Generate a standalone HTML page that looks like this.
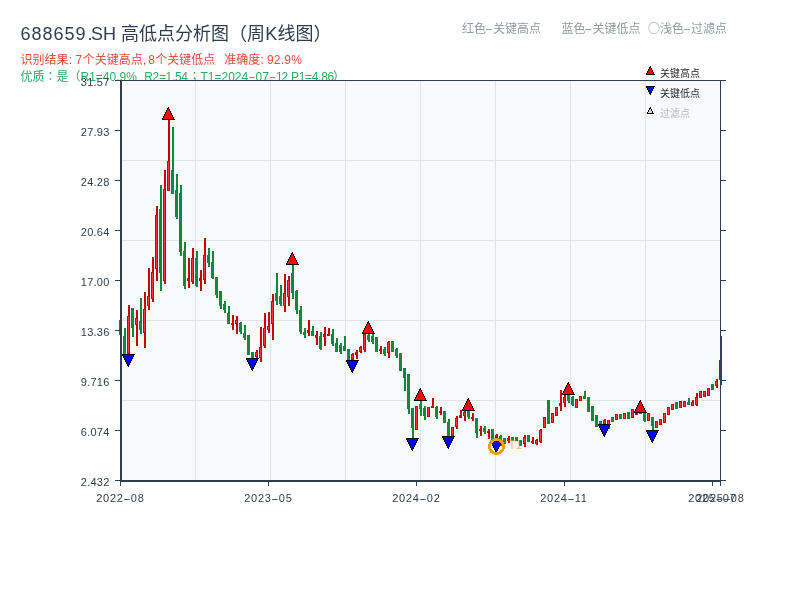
<!DOCTYPE html>
<html lang="zh-CN">
<head>
<meta charset="utf-8">
<title>688659.SH 高低点分析图（周K线图）</title>
<style>
html,body{margin:0;padding:0;background:#fff;}
body{width:800px;height:600px;overflow:hidden;position:relative;font-family:"Liberation Sans","Noto Sans CJK SC",sans-serif;}
svg{position:absolute;left:0;top:0;display:block;}
text{font-family:"Liberation Sans","Noto Sans CJK SC",sans-serif;}
.ax{font-size:11px;fill:#2c3e50;}
</style>
</head>
<body>
<svg width="800" height="600" viewBox="0 0 800 600">
<rect x="0" y="0" width="800" height="600" fill="#ffffff"/>

<text y="40" font-size="18" fill="#2c3e50" xml:space="preserve"><tspan x="20.5" letter-spacing="1.0">688659</tspan><tspan x="87.5">.</tspan><tspan x="91.1">S</tspan><tspan x="102.9">H </tspan><tspan x="121">高低点分析图（周</tspan><tspan x="265.3">K</tspan><tspan x="277.5">线图）</tspan></text>
<text y="64" font-size="12" fill="#e74c3c" xml:space="preserve"><tspan x="20.5">识别结果</tspan><tspan x="68.8">: </tspan><tspan x="75.5">7</tspan><tspan x="82.7">个关键高点</tspan><tspan x="142.9">, </tspan><tspan x="148.2">8</tspan><tspan x="155.2">个关键低点  </tspan><tspan x="224.2">准确度</tspan><tspan x="260.6">: </tspan><tspan x="267" letter-spacing="0.2">92.9%</tspan></text>
<text y="81" font-size="12" fill="#27ae60" xml:space="preserve"><tspan x="20.5">优质</tspan><tspan x="44.5" font-family="Noto Sans CJK JP, sans-serif" lang="ja" xml:lang="ja">：</tspan><tspan x="56.5">是（</tspan><tspan x="80.5">R1=40.9%  </tspan><tspan x="144.3" letter-spacing="-0.35">R2=1.54</tspan><tspan x="188.4" font-family="Noto Sans CJK JP, sans-serif" lang="ja" xml:lang="ja">；</tspan><tspan x="200.5">T1=2024</tspan><tspan x="255.5">07</tspan><tspan x="275.9" letter-spacing="-1">12 </tspan><tspan x="291" letter-spacing="-0.3">P1=4.86</tspan><tspan x="333">）</tspan></text>
<text transform="translate(248.41,81) scale(1.75,1)" font-size="12" fill="#27ae60">-</text>
<text transform="translate(268.94,81) scale(1.8,1)" font-size="12" fill="#27ae60">-</text>
<text y="33" font-size="12" fill="#8f9c9d" xml:space="preserve"><tspan x="462">红色</tspan><tspan x="493">关键高点</tspan><tspan x="561.5">蓝色</tspan><tspan x="592.5">关键低点</tspan><tspan x="648" font-family="Noto Sans CJK SC, sans-serif">○</tspan><tspan x="660">浅色</tspan><tspan x="691">过滤点</tspan></text>
<text transform="translate(485.04,33) scale(2,1)" font-size="12" fill="#8f9c9d">-</text>
<text transform="translate(584.24,33) scale(2,1)" font-size="12" fill="#8f9c9d">-</text>
<text transform="translate(683.04,33) scale(2,1)" font-size="12" fill="#8f9c9d">-</text>
<text x="660" y="76.5" font-size="10" fill="#2a2a2a">关键高点</text>
<rect x="120" y="80" width="600" height="400" fill="#f7f9fb"/>
<rect x="195" y="80" width="1" height="400" fill="#dfe3e8"/>
<rect x="270" y="80" width="1" height="400" fill="#dfe3e8"/>
<rect x="345" y="80" width="1" height="400" fill="#dfe3e8"/>
<rect x="420" y="80" width="1" height="400" fill="#dfe3e8"/>
<rect x="495" y="80" width="1" height="400" fill="#dfe3e8"/>
<rect x="570" y="80" width="1" height="400" fill="#dfe3e8"/>
<rect x="645" y="80" width="1" height="400" fill="#dfe3e8"/>
<rect x="120" y="160" width="600" height="1" fill="#dfe3e8"/>
<rect x="120" y="240" width="600" height="1" fill="#dfe3e8"/>
<rect x="120" y="320" width="600" height="1" fill="#dfe3e8"/>
<rect x="120" y="400" width="600" height="1" fill="#dfe3e8"/>
<text x="660" y="96.5" font-size="10" fill="#2a2a2a">关键低点</text>
<text x="660" y="116.6" font-size="10" fill="#b8b8b8">过滤点</text>
<g shape-rendering="crispEdges">
<rect x="120" y="320" width="2" height="15" fill="#0a8a3a"/>
<rect x="119" y="320" width="3" height="15" fill="#0a8a3a"/>
<rect x="124" y="328" width="2" height="26" fill="#0a8a3a"/>
<rect x="123" y="336" width="3" height="18" fill="#0a8a3a"/>
<rect x="128" y="305" width="2" height="49" fill="#cc0000"/>
<rect x="127" y="316" width="3" height="38" fill="#cc0000"/>
<rect x="128" y="317" width="1" height="36" fill="#ff3333"/>
<rect x="132" y="308" width="2" height="29" fill="#0a8a3a"/>
<rect x="131" y="308" width="3" height="20" fill="#0a8a3a"/>
<rect x="136" y="310" width="2" height="35.6" fill="#cc0000"/>
<rect x="135" y="318" width="3" height="7" fill="#cc0000"/>
<rect x="136" y="319" width="1" height="5" fill="#ff3333"/>
<rect x="140" y="298" width="2" height="36" fill="#0a8a3a"/>
<rect x="139" y="321" width="3" height="9" fill="#0a8a3a"/>
<rect x="144" y="292" width="2" height="55.7" fill="#cc0000"/>
<rect x="143" y="309" width="3" height="24" fill="#cc0000"/>
<rect x="144" y="310" width="1" height="22" fill="#ff3333"/>
<rect x="148" y="268" width="2" height="41.75" fill="#cc0000"/>
<rect x="147" y="296" width="3" height="9.6" fill="#cc0000"/>
<rect x="148" y="297" width="1" height="7.6" fill="#ff3333"/>
<rect x="152" y="256.9" width="2" height="45" fill="#cc0000"/>
<rect x="151" y="272" width="3" height="26.75" fill="#cc0000"/>
<rect x="152" y="273" width="1" height="24.75" fill="#ff3333"/>
<rect x="156" y="206" width="2" height="74.6" fill="#cc0000"/>
<rect x="155" y="215" width="3" height="54.4" fill="#cc0000"/>
<rect x="156" y="216" width="1" height="52.4" fill="#ff3333"/>
<rect x="160" y="185" width="2" height="106" fill="#0a8a3a"/>
<rect x="159" y="208.75" width="3" height="63.75" fill="#0a8a3a"/>
<rect x="164" y="170" width="2" height="114.4" fill="#cc0000"/>
<rect x="163" y="189.4" width="3" height="91.6" fill="#cc0000"/>
<rect x="164" y="190.4" width="1" height="89.6" fill="#ff3333"/>
<rect x="168" y="119.75" width="2" height="70.85" fill="#cc0000"/>
<rect x="167" y="161" width="3" height="29.6" fill="#cc0000"/>
<rect x="168" y="162" width="1" height="27.6" fill="#ff3333"/>
<rect x="172" y="126.9" width="2" height="66.85" fill="#0a8a3a"/>
<rect x="171" y="170" width="3" height="23.75" fill="#0a8a3a"/>
<rect x="176" y="174" width="2" height="44.75" fill="#0a8a3a"/>
<rect x="175" y="190" width="3" height="27" fill="#0a8a3a"/>
<rect x="180" y="185" width="2" height="70.6" fill="#0a8a3a"/>
<rect x="179" y="193" width="3" height="59" fill="#0a8a3a"/>
<rect x="184" y="241.9" width="2" height="46.85" fill="#0a8a3a"/>
<rect x="183" y="251" width="3" height="34.6" fill="#0a8a3a"/>
<rect x="188" y="258" width="2" height="29.5" fill="#cc0000"/>
<rect x="187" y="278" width="3" height="2.6" fill="#cc0000"/>
<rect x="192" y="248" width="2" height="35.5" fill="#cc0000"/>
<rect x="191" y="258" width="3" height="24" fill="#cc0000"/>
<rect x="192" y="259" width="1" height="22" fill="#ff3333"/>
<rect x="196" y="251" width="2" height="36" fill="#0a8a3a"/>
<rect x="195" y="258" width="3" height="27.6" fill="#0a8a3a"/>
<rect x="200" y="270" width="2" height="20.6" fill="#cc0000"/>
<rect x="199" y="278" width="3" height="3" fill="#cc0000"/>
<rect x="204" y="238" width="2" height="45.5" fill="#cc0000"/>
<rect x="203" y="255" width="3" height="25" fill="#cc0000"/>
<rect x="204" y="256" width="1" height="23" fill="#ff3333"/>
<rect x="208" y="248" width="2" height="18.6" fill="#0a8a3a"/>
<rect x="207" y="255" width="3" height="7.5" fill="#0a8a3a"/>
<rect x="212" y="251" width="2" height="28.4" fill="#0a8a3a"/>
<rect x="211" y="262" width="3" height="15.5" fill="#0a8a3a"/>
<rect x="216" y="277" width="2" height="20.5" fill="#0a8a3a"/>
<rect x="215" y="277" width="3" height="18" fill="#0a8a3a"/>
<rect x="220" y="291" width="2" height="17.75" fill="#0a8a3a"/>
<rect x="219" y="291" width="3" height="14.6" fill="#0a8a3a"/>
<rect x="224" y="301" width="2" height="12" fill="#0a8a3a"/>
<rect x="223" y="304" width="3" height="6" fill="#0a8a3a"/>
<rect x="228" y="306" width="2" height="17.75" fill="#0a8a3a"/>
<rect x="227" y="312.5" width="3" height="11.25" fill="#0a8a3a"/>
<rect x="232" y="315" width="2" height="15" fill="#cc0000"/>
<rect x="231" y="322.75" width="3" height="2.25" fill="#cc0000"/>
<rect x="236" y="316" width="2" height="17.75" fill="#cc0000"/>
<rect x="235" y="320" width="3" height="3.75" fill="#cc0000"/>
<rect x="236" y="321" width="1" height="1.75" fill="#ff3333"/>
<rect x="240" y="321.9" width="2" height="11.85" fill="#0a8a3a"/>
<rect x="239" y="322.5" width="3" height="9.5" fill="#0a8a3a"/>
<rect x="244" y="325" width="2" height="15" fill="#0a8a3a"/>
<rect x="243" y="333" width="3" height="5" fill="#0a8a3a"/>
<rect x="248" y="335" width="2" height="20" fill="#0a8a3a"/>
<rect x="247" y="335" width="3" height="20" fill="#0a8a3a"/>
<rect x="252" y="352" width="2" height="6" fill="#0a8a3a"/>
<rect x="251" y="352" width="3" height="6" fill="#0a8a3a"/>
<rect x="256" y="350" width="2" height="8" fill="#cc0000"/>
<rect x="255" y="352" width="3" height="5" fill="#cc0000"/>
<rect x="256" y="353" width="1" height="3" fill="#ff3333"/>
<rect x="260" y="327" width="2" height="35" fill="#cc0000"/>
<rect x="259" y="347" width="3" height="10.5" fill="#cc0000"/>
<rect x="260" y="348" width="1" height="8.5" fill="#ff3333"/>
<rect x="264" y="313" width="2" height="34.75" fill="#cc0000"/>
<rect x="263" y="328" width="3" height="17.6" fill="#cc0000"/>
<rect x="264" y="329" width="1" height="15.6" fill="#ff3333"/>
<rect x="268" y="312" width="2" height="21" fill="#cc0000"/>
<rect x="267" y="325.6" width="3" height="4.4" fill="#cc0000"/>
<rect x="268" y="326.6" width="1" height="2.4" fill="#ff3333"/>
<rect x="272" y="293.75" width="2" height="46.25" fill="#cc0000"/>
<rect x="271" y="300.6" width="3" height="23.15" fill="#cc0000"/>
<rect x="272" y="301.6" width="1" height="21.15" fill="#ff3333"/>
<rect x="276" y="273" width="2" height="32" fill="#0a8a3a"/>
<rect x="275" y="293" width="3" height="8" fill="#0a8a3a"/>
<rect x="280" y="285" width="2" height="20.6" fill="#0a8a3a"/>
<rect x="279" y="296" width="3" height="7.75" fill="#0a8a3a"/>
<rect x="284" y="274" width="2" height="37.9" fill="#cc0000"/>
<rect x="283" y="292.5" width="3" height="13.1" fill="#cc0000"/>
<rect x="284" y="293.5" width="1" height="11.1" fill="#ff3333"/>
<rect x="288" y="276" width="2" height="29.6" fill="#cc0000"/>
<rect x="287" y="280" width="3" height="17" fill="#cc0000"/>
<rect x="288" y="281" width="1" height="15" fill="#ff3333"/>
<rect x="292" y="264.75" width="2" height="34" fill="#0a8a3a"/>
<rect x="291" y="273" width="3" height="20" fill="#0a8a3a"/>
<rect x="296" y="290" width="2" height="23.75" fill="#0a8a3a"/>
<rect x="295" y="291" width="3" height="19" fill="#0a8a3a"/>
<rect x="300" y="306" width="2" height="27.75" fill="#0a8a3a"/>
<rect x="299" y="310" width="3" height="22" fill="#0a8a3a"/>
<rect x="304" y="328" width="2" height="9.5" fill="#0a8a3a"/>
<rect x="303" y="332" width="3" height="3" fill="#0a8a3a"/>
<rect x="308" y="320" width="2" height="16" fill="#cc0000"/>
<rect x="307" y="330" width="3" height="2.5" fill="#cc0000"/>
<rect x="312" y="326" width="2" height="10" fill="#0a8a3a"/>
<rect x="311" y="331" width="3" height="5" fill="#0a8a3a"/>
<rect x="316" y="331" width="2" height="13.75" fill="#cc0000"/>
<rect x="315" y="335" width="3" height="2.5" fill="#cc0000"/>
<rect x="320" y="332" width="2" height="17.75" fill="#0a8a3a"/>
<rect x="319" y="336" width="3" height="12.75" fill="#0a8a3a"/>
<rect x="324" y="327" width="2" height="19" fill="#cc0000"/>
<rect x="323" y="334" width="3" height="3" fill="#cc0000"/>
<rect x="328" y="328" width="2" height="8" fill="#cc0000"/>
<rect x="327" y="333.75" width="3" height="2.25" fill="#cc0000"/>
<rect x="332" y="329" width="2" height="16.6" fill="#0a8a3a"/>
<rect x="331" y="334" width="3" height="10" fill="#0a8a3a"/>
<rect x="336" y="337.5" width="2" height="14.5" fill="#0a8a3a"/>
<rect x="335" y="342.5" width="3" height="9.5" fill="#0a8a3a"/>
<rect x="340" y="343" width="2" height="10.5" fill="#0a8a3a"/>
<rect x="339" y="345" width="3" height="7" fill="#0a8a3a"/>
<rect x="344" y="336" width="2" height="15" fill="#0a8a3a"/>
<rect x="343" y="345.6" width="3" height="5" fill="#0a8a3a"/>
<rect x="348" y="349" width="2" height="11" fill="#0a8a3a"/>
<rect x="347" y="349" width="3" height="11" fill="#0a8a3a"/>
<rect x="352" y="353" width="2" height="7.4" fill="#cc0000"/>
<rect x="351" y="354.4" width="3" height="5.6" fill="#cc0000"/>
<rect x="352" y="355.4" width="1" height="3.6" fill="#ff3333"/>
<rect x="356" y="350" width="2" height="8.75" fill="#cc0000"/>
<rect x="355" y="352" width="3" height="3" fill="#cc0000"/>
<rect x="360" y="346" width="2" height="6.5" fill="#cc0000"/>
<rect x="359" y="347" width="3" height="5" fill="#cc0000"/>
<rect x="360" y="348" width="1" height="3" fill="#ff3333"/>
<rect x="364" y="333.5" width="2" height="18" fill="#cc0000"/>
<rect x="363" y="333.5" width="3" height="16.5" fill="#cc0000"/>
<rect x="364" y="334.5" width="1" height="14.5" fill="#ff3333"/>
<rect x="368" y="333.5" width="2" height="8.1" fill="#0a8a3a"/>
<rect x="367" y="335" width="3" height="5" fill="#0a8a3a"/>
<rect x="372" y="333.5" width="2" height="10" fill="#0a8a3a"/>
<rect x="371" y="336" width="3" height="6" fill="#0a8a3a"/>
<rect x="376" y="337" width="2" height="14.5" fill="#0a8a3a"/>
<rect x="375" y="337" width="3" height="14.5" fill="#0a8a3a"/>
<rect x="380" y="346" width="2" height="7.5" fill="#cc0000"/>
<rect x="379" y="349" width="3" height="2" fill="#cc0000"/>
<rect x="384" y="347" width="2" height="8.6" fill="#0a8a3a"/>
<rect x="383" y="349" width="3" height="5" fill="#0a8a3a"/>
<rect x="388" y="341" width="2" height="16.75" fill="#cc0000"/>
<rect x="387" y="342" width="3" height="10.5" fill="#cc0000"/>
<rect x="388" y="343" width="1" height="8.5" fill="#ff3333"/>
<rect x="392" y="341" width="2" height="10.5" fill="#0a8a3a"/>
<rect x="391" y="341" width="3" height="10.5" fill="#0a8a3a"/>
<rect x="396" y="348" width="2" height="9.75" fill="#0a8a3a"/>
<rect x="395" y="349" width="3" height="7" fill="#0a8a3a"/>
<rect x="400" y="353" width="2" height="17.6" fill="#0a8a3a"/>
<rect x="399" y="353" width="3" height="17.6" fill="#0a8a3a"/>
<rect x="404" y="368" width="2" height="22.6" fill="#0a8a3a"/>
<rect x="403" y="368" width="3" height="9.5" fill="#0a8a3a"/>
<rect x="408" y="374" width="2" height="39.75" fill="#0a8a3a"/>
<rect x="407" y="374" width="3" height="34.75" fill="#0a8a3a"/>
<rect x="412" y="408" width="2" height="30" fill="#0a8a3a"/>
<rect x="411" y="408" width="3" height="19.5" fill="#0a8a3a"/>
<rect x="416" y="406" width="2" height="23.75" fill="#cc0000"/>
<rect x="415" y="406" width="3" height="23.75" fill="#cc0000"/>
<rect x="416" y="407" width="1" height="21.75" fill="#ff3333"/>
<rect x="420" y="400.6" width="2" height="15" fill="#0a8a3a"/>
<rect x="419" y="403.75" width="3" height="5" fill="#0a8a3a"/>
<rect x="424" y="406" width="2" height="13.75" fill="#0a8a3a"/>
<rect x="423" y="408" width="3" height="8" fill="#0a8a3a"/>
<rect x="428" y="406.9" width="2" height="10" fill="#cc0000"/>
<rect x="427" y="406.9" width="3" height="10" fill="#cc0000"/>
<rect x="428" y="407.9" width="1" height="8" fill="#ff3333"/>
<rect x="432" y="397.9" width="2" height="10" fill="#cc0000"/>
<rect x="431" y="406" width="3" height="1.9" fill="#cc0000"/>
<rect x="436" y="406" width="2" height="12.75" fill="#0a8a3a"/>
<rect x="435" y="407" width="3" height="10" fill="#0a8a3a"/>
<rect x="440" y="407" width="2" height="7.75" fill="#cc0000"/>
<rect x="439" y="410.6" width="3" height="2.4" fill="#cc0000"/>
<rect x="444" y="411" width="2" height="11.5" fill="#0a8a3a"/>
<rect x="443" y="411" width="3" height="11.5" fill="#0a8a3a"/>
<rect x="448" y="419" width="2" height="17.25" fill="#0a8a3a"/>
<rect x="447" y="422" width="3" height="14.25" fill="#0a8a3a"/>
<rect x="452" y="427" width="2" height="9" fill="#cc0000"/>
<rect x="451" y="427" width="3" height="9" fill="#cc0000"/>
<rect x="452" y="428" width="1" height="7" fill="#ff3333"/>
<rect x="456" y="416" width="2" height="12.75" fill="#cc0000"/>
<rect x="455" y="417.75" width="3" height="9.25" fill="#cc0000"/>
<rect x="456" y="418.75" width="1" height="7.25" fill="#ff3333"/>
<rect x="460" y="410" width="2" height="7.75" fill="#cc0000"/>
<rect x="459" y="415" width="3" height="2.5" fill="#cc0000"/>
<rect x="464" y="410.6" width="2" height="10" fill="#cc0000"/>
<rect x="463" y="412" width="3" height="3.6" fill="#cc0000"/>
<rect x="464" y="413" width="1" height="1.6" fill="#ff3333"/>
<rect x="468" y="410.6" width="2" height="8.15" fill="#0a8a3a"/>
<rect x="467" y="411" width="3" height="6" fill="#0a8a3a"/>
<rect x="472" y="413" width="2" height="7.6" fill="#cc0000"/>
<rect x="471" y="417" width="3" height="2.4" fill="#cc0000"/>
<rect x="476" y="418" width="2" height="19.5" fill="#0a8a3a"/>
<rect x="475" y="418" width="3" height="14.5" fill="#0a8a3a"/>
<rect x="480" y="426" width="2" height="9.6" fill="#cc0000"/>
<rect x="479" y="428.75" width="3" height="1.85" fill="#cc0000"/>
<rect x="484" y="426" width="2" height="8" fill="#0a8a3a"/>
<rect x="483" y="428" width="3" height="4" fill="#0a8a3a"/>
<rect x="488" y="429" width="2" height="9.75" fill="#cc0000"/>
<rect x="487" y="431" width="3" height="2" fill="#cc0000"/>
<rect x="492" y="429" width="2" height="11" fill="#0a8a3a"/>
<rect x="491" y="429" width="3" height="11" fill="#0a8a3a"/>
<rect x="496" y="434" width="2" height="4" fill="#cc0000"/>
<rect x="495" y="435" width="3" height="3" fill="#cc0000"/>
<rect x="500" y="435" width="2" height="10.6" fill="#0a8a3a"/>
<rect x="499" y="436" width="3" height="6" fill="#0a8a3a"/>
<rect x="504" y="437.5" width="2" height="6.9" fill="#0a8a3a"/>
<rect x="503" y="438" width="3" height="6" fill="#0a8a3a"/>
<rect x="508" y="436" width="2" height="6.5" fill="#cc0000"/>
<rect x="507" y="438" width="3" height="3" fill="#cc0000"/>
<rect x="512" y="437" width="2" height="4" fill="#0a8a3a"/>
<rect x="511" y="437" width="3" height="4" fill="#0a8a3a"/>
<rect x="516" y="437" width="2" height="4" fill="#0a8a3a"/>
<rect x="515" y="437" width="3" height="4" fill="#0a8a3a"/>
<rect x="520" y="440" width="2" height="6.25" fill="#0a8a3a"/>
<rect x="519" y="440" width="3" height="6.25" fill="#0a8a3a"/>
<rect x="524" y="435" width="2" height="11.5" fill="#cc0000"/>
<rect x="523" y="437" width="3" height="7.4" fill="#cc0000"/>
<rect x="524" y="438" width="1" height="5.4" fill="#ff3333"/>
<rect x="528" y="435" width="2" height="6.5" fill="#0a8a3a"/>
<rect x="527" y="435" width="3" height="6.5" fill="#0a8a3a"/>
<rect x="532" y="437" width="2" height="6.5" fill="#cc0000"/>
<rect x="531" y="440.6" width="3" height="1.9" fill="#cc0000"/>
<rect x="536" y="439" width="2" height="5.75" fill="#cc0000"/>
<rect x="535" y="440" width="3" height="4" fill="#cc0000"/>
<rect x="536" y="441" width="1" height="2" fill="#ff3333"/>
<rect x="540" y="429" width="2" height="13.75" fill="#cc0000"/>
<rect x="539" y="430" width="3" height="12" fill="#cc0000"/>
<rect x="540" y="431" width="1" height="10" fill="#ff3333"/>
<rect x="544" y="417" width="2" height="10.5" fill="#cc0000"/>
<rect x="543" y="417" width="3" height="10.5" fill="#cc0000"/>
<rect x="544" y="418" width="1" height="8.5" fill="#ff3333"/>
<rect x="548" y="400" width="2" height="23.5" fill="#0a8a3a"/>
<rect x="547" y="400" width="3" height="23.5" fill="#0a8a3a"/>
<rect x="552" y="413" width="2" height="9.5" fill="#cc0000"/>
<rect x="551" y="413" width="3" height="9.5" fill="#cc0000"/>
<rect x="552" y="414" width="1" height="7.5" fill="#ff3333"/>
<rect x="556" y="407" width="2" height="8.6" fill="#cc0000"/>
<rect x="555" y="407" width="3" height="8.6" fill="#cc0000"/>
<rect x="556" y="408" width="1" height="6.6" fill="#ff3333"/>
<rect x="560" y="390" width="2" height="20.6" fill="#cc0000"/>
<rect x="559" y="403" width="3" height="2.6" fill="#cc0000"/>
<rect x="564" y="394.4" width="2" height="12.1" fill="#cc0000"/>
<rect x="563" y="397" width="3" height="5.5" fill="#cc0000"/>
<rect x="564" y="398" width="1" height="3.5" fill="#ff3333"/>
<rect x="568" y="394.4" width="2" height="8.1" fill="#0a8a3a"/>
<rect x="567" y="395" width="3" height="6" fill="#0a8a3a"/>
<rect x="572" y="396" width="2" height="10.25" fill="#0a8a3a"/>
<rect x="571" y="397" width="3" height="8" fill="#0a8a3a"/>
<rect x="576" y="399.4" width="2" height="8.1" fill="#cc0000"/>
<rect x="575" y="399.4" width="3" height="8.1" fill="#cc0000"/>
<rect x="576" y="400.4" width="1" height="6.1" fill="#ff3333"/>
<rect x="580" y="396.25" width="2" height="4.35" fill="#cc0000"/>
<rect x="579" y="396.25" width="3" height="4.35" fill="#cc0000"/>
<rect x="580" y="397.25" width="1" height="2.35" fill="#ff3333"/>
<rect x="584" y="391.25" width="2" height="7.25" fill="#0a8a3a"/>
<rect x="583" y="395.6" width="3" height="2.9" fill="#0a8a3a"/>
<rect x="588" y="397.25" width="2" height="14.25" fill="#0a8a3a"/>
<rect x="587" y="397.25" width="3" height="14.25" fill="#0a8a3a"/>
<rect x="592" y="406.25" width="2" height="14.35" fill="#0a8a3a"/>
<rect x="591" y="406.25" width="3" height="14.35" fill="#0a8a3a"/>
<rect x="596" y="415.25" width="2" height="11.25" fill="#0a8a3a"/>
<rect x="595" y="415.25" width="3" height="11.25" fill="#0a8a3a"/>
<rect x="600" y="421.25" width="2" height="3.25" fill="#0a8a3a"/>
<rect x="599" y="421.25" width="3" height="3.25" fill="#0a8a3a"/>
<rect x="604" y="419" width="2" height="5.4" fill="#cc0000"/>
<rect x="603" y="420" width="3" height="4.4" fill="#cc0000"/>
<rect x="604" y="421" width="1" height="2.4" fill="#ff3333"/>
<rect x="608" y="420" width="2" height="8.5" fill="#cc0000"/>
<rect x="607" y="420" width="3" height="8.5" fill="#cc0000"/>
<rect x="608" y="421" width="1" height="6.5" fill="#ff3333"/>
<rect x="612" y="417.25" width="2" height="4.25" fill="#0a8a3a"/>
<rect x="611" y="417.25" width="3" height="4.25" fill="#0a8a3a"/>
<rect x="616" y="414.4" width="2" height="5.85" fill="#cc0000"/>
<rect x="615" y="414.4" width="3" height="5.85" fill="#cc0000"/>
<rect x="616" y="415.4" width="1" height="3.85" fill="#ff3333"/>
<rect x="620" y="414.4" width="2" height="4.35" fill="#0a8a3a"/>
<rect x="619" y="414.4" width="3" height="4.35" fill="#0a8a3a"/>
<rect x="624" y="413" width="2" height="6.4" fill="#cc0000"/>
<rect x="623" y="413" width="3" height="6.4" fill="#cc0000"/>
<rect x="624" y="414" width="1" height="4.4" fill="#ff3333"/>
<rect x="628" y="412.25" width="2" height="6.25" fill="#0a8a3a"/>
<rect x="627" y="412.25" width="3" height="6.25" fill="#0a8a3a"/>
<rect x="632" y="409.4" width="2" height="8.1" fill="#cc0000"/>
<rect x="631" y="409.4" width="3" height="8.1" fill="#cc0000"/>
<rect x="632" y="410.4" width="1" height="6.1" fill="#ff3333"/>
<rect x="636" y="412.5" width="2" height="2.25" fill="#cc0000"/>
<rect x="635" y="412.5" width="3" height="2.25" fill="#cc0000"/>
<rect x="640" y="412.5" width="2" height="1.25" fill="#0a8a3a"/>
<rect x="639" y="412.5" width="3" height="1.25" fill="#0a8a3a"/>
<rect x="644" y="412.5" width="2" height="9.4" fill="#0a8a3a"/>
<rect x="643" y="413" width="3" height="8" fill="#0a8a3a"/>
<rect x="648" y="413" width="2" height="7.6" fill="#cc0000"/>
<rect x="647" y="413" width="3" height="7.6" fill="#cc0000"/>
<rect x="648" y="414" width="1" height="5.6" fill="#ff3333"/>
<rect x="652" y="417.25" width="2" height="12.75" fill="#0a8a3a"/>
<rect x="651" y="417.25" width="3" height="8.75" fill="#0a8a3a"/>
<rect x="656" y="421.25" width="2" height="6.25" fill="#cc0000"/>
<rect x="655" y="421.25" width="3" height="6.25" fill="#cc0000"/>
<rect x="656" y="422.25" width="1" height="4.25" fill="#ff3333"/>
<rect x="660" y="419" width="2" height="5.75" fill="#cc0000"/>
<rect x="659" y="419" width="3" height="5.75" fill="#cc0000"/>
<rect x="660" y="420" width="1" height="3.75" fill="#ff3333"/>
<rect x="664" y="413" width="2" height="9.5" fill="#cc0000"/>
<rect x="663" y="413" width="3" height="9.5" fill="#cc0000"/>
<rect x="664" y="414" width="1" height="7.5" fill="#ff3333"/>
<rect x="668" y="407.25" width="2" height="7.5" fill="#cc0000"/>
<rect x="667" y="407.25" width="3" height="7.5" fill="#cc0000"/>
<rect x="668" y="408.25" width="1" height="5.5" fill="#ff3333"/>
<rect x="672" y="404" width="2" height="5.75" fill="#cc0000"/>
<rect x="671" y="404" width="3" height="5.75" fill="#cc0000"/>
<rect x="672" y="405" width="1" height="3.75" fill="#ff3333"/>
<rect x="676" y="402.25" width="2" height="6.5" fill="#0a8a3a"/>
<rect x="675" y="402.25" width="3" height="6.5" fill="#0a8a3a"/>
<rect x="680" y="401" width="2" height="6.75" fill="#cc0000"/>
<rect x="679" y="401" width="3" height="6.75" fill="#cc0000"/>
<rect x="680" y="402" width="1" height="4.75" fill="#ff3333"/>
<rect x="684" y="401" width="2" height="5.9" fill="#cc0000"/>
<rect x="683" y="401" width="3" height="5.9" fill="#cc0000"/>
<rect x="684" y="402" width="1" height="3.9" fill="#ff3333"/>
<rect x="688" y="398" width="2" height="6.75" fill="#0a8a3a"/>
<rect x="687" y="401.9" width="3" height="2.85" fill="#0a8a3a"/>
<rect x="692" y="400" width="2" height="5.6" fill="#cc0000"/>
<rect x="691" y="402" width="3" height="3.6" fill="#cc0000"/>
<rect x="692" y="403" width="1" height="1.6" fill="#ff3333"/>
<rect x="696" y="393" width="2" height="12.6" fill="#cc0000"/>
<rect x="695" y="397" width="3" height="8" fill="#cc0000"/>
<rect x="696" y="398" width="1" height="6" fill="#ff3333"/>
<rect x="700" y="391" width="2" height="6.5" fill="#cc0000"/>
<rect x="699" y="391" width="3" height="6.5" fill="#cc0000"/>
<rect x="700" y="392" width="1" height="4.5" fill="#ff3333"/>
<rect x="704" y="391" width="2" height="5.5" fill="#cc0000"/>
<rect x="703" y="391" width="3" height="5.5" fill="#cc0000"/>
<rect x="704" y="392" width="1" height="3.5" fill="#ff3333"/>
<rect x="708" y="388" width="2" height="7.6" fill="#cc0000"/>
<rect x="707" y="388" width="3" height="7.6" fill="#cc0000"/>
<rect x="708" y="389" width="1" height="5.6" fill="#ff3333"/>
<rect x="712" y="384" width="2" height="5.75" fill="#0a8a3a"/>
<rect x="711" y="384" width="3" height="5.75" fill="#0a8a3a"/>
<rect x="716" y="379" width="2" height="8.75" fill="#cc0000"/>
<rect x="715" y="381" width="3" height="5" fill="#cc0000"/>
<rect x="716" y="382" width="1" height="3" fill="#ff3333"/>
<rect x="720" y="336" width="2" height="49.3" fill="#cc0000"/>
<rect x="719" y="360" width="3" height="20" fill="#cc0000"/>
<rect x="720" y="361" width="1" height="18" fill="#ff3333"/>
</g>
<g fill="#2c3e50" shape-rendering="crispEdges">
<rect x="120" y="80" width="2" height="402"/>
<rect x="120" y="480" width="601" height="2"/>
<rect x="120" y="80" width="606" height="1"/>
<rect x="720" y="80" width="1" height="401"/>
<rect x="115" y="80" width="5" height="1"/>
<rect x="115" y="130" width="5" height="1"/>
<rect x="721" y="130" width="5" height="1"/>
<rect x="115" y="180" width="5" height="1"/>
<rect x="721" y="180" width="5" height="1"/>
<rect x="115" y="230" width="5" height="1"/>
<rect x="721" y="230" width="5" height="1"/>
<rect x="115" y="280" width="5" height="1"/>
<rect x="721" y="280" width="5" height="1"/>
<rect x="115" y="330" width="5" height="1"/>
<rect x="721" y="330" width="5" height="1"/>
<rect x="115" y="380" width="5" height="1"/>
<rect x="721" y="380" width="5" height="1"/>
<rect x="115" y="430" width="5" height="1"/>
<rect x="721" y="430" width="5" height="1"/>
<rect x="115" y="480" width="5" height="1"/>
<rect x="721" y="480" width="5" height="1"/>
<rect x="120" y="482" width="1" height="4"/>
<rect x="268" y="482" width="1" height="4"/>
<rect x="416" y="482" width="1" height="4"/>
<rect x="564" y="482" width="1" height="4"/>
<rect x="712" y="482" width="1" height="4"/>
<rect x="720" y="482" width="1" height="4"/>
</g>
<text class="ax" x="109.6" y="86" text-anchor="end" letter-spacing="0.25">31.57</text>
<text class="ax" x="109.6" y="136" text-anchor="end" letter-spacing="0.25">27.93</text>
<text class="ax" x="109.6" y="186" text-anchor="end" letter-spacing="0.25">24.28</text>
<text class="ax" x="109.6" y="236" text-anchor="end" letter-spacing="0.25">20.64</text>
<text class="ax" x="109.6" y="286" text-anchor="end" letter-spacing="0.25">17.00</text>
<text class="ax" x="109.6" y="336" text-anchor="end" letter-spacing="0.25">13.36</text>
<text class="ax" x="109.6" y="386" text-anchor="end" letter-spacing="0.25">9.716</text>
<text class="ax" x="109.6" y="436" text-anchor="end" letter-spacing="0.25">6.074</text>
<text class="ax" x="109.6" y="486" text-anchor="end" letter-spacing="0.25">2.432</text>
<text class="ax" y="502" letter-spacing="0.75"><tspan x="96.2">2022</tspan><tspan x="130.8">08</tspan></text>
<text transform="translate(123.2,502) scale(2.04,1)" font-size="11" fill="#2c3e50">-</text>
<text class="ax" y="502" letter-spacing="0.75"><tspan x="244.2">2023</tspan><tspan x="278.8">05</tspan></text>
<text transform="translate(271.2,502) scale(2.04,1)" font-size="11" fill="#2c3e50">-</text>
<text class="ax" y="502" letter-spacing="0.75"><tspan x="392.2">2024</tspan><tspan x="426.8">02</tspan></text>
<text transform="translate(419.2,502) scale(2.04,1)" font-size="11" fill="#2c3e50">-</text>
<text class="ax" y="502" letter-spacing="0.75"><tspan x="540.2">2024</tspan><tspan x="574.8">11</tspan></text>
<text transform="translate(567.2,502) scale(2.04,1)" font-size="11" fill="#2c3e50">-</text>
<text class="ax" y="502" letter-spacing="0.75"><tspan x="688.2">2025</tspan><tspan x="722.8">07</tspan></text>
<text transform="translate(715.2,502) scale(2.04,1)" font-size="11" fill="#2c3e50">-</text>
<text class="ax" y="502" letter-spacing="0.75"><tspan x="696.2">2025</tspan><tspan x="730.8">08</tspan></text>
<text transform="translate(723.2,502) scale(2.04,1)" font-size="11" fill="#2c3e50">-</text>
<g transform="translate(650,66)" shape-rendering="crispEdges"><rect x="0" y="0" width="1" height="1" fill="#000"/><rect x="-1" y="1" width="2" height="1" fill="#000"/><rect x="-1" y="2" width="3" height="1" fill="#000"/><rect x="0" y="2" width="1" height="1" fill="#ff0000"/><rect x="-2" y="3" width="4" height="1" fill="#000"/><rect x="-1" y="3" width="2" height="1" fill="#ff0000"/><rect x="-2" y="4" width="5" height="1" fill="#000"/><rect x="-1" y="4" width="3" height="1" fill="#ff0000"/><rect x="-3" y="5" width="6" height="1" fill="#000"/><rect x="-2" y="5" width="4" height="1" fill="#ff0000"/><rect x="-3" y="6" width="7" height="1" fill="#000"/><rect x="-2" y="6" width="5" height="1" fill="#ff0000"/><rect x="-4" y="7" width="8" height="1" fill="#000"/><rect x="-3" y="7" width="6" height="1" fill="#ff0000"/><rect x="-4" y="8" width="9" height="1" fill="#000"/></g>
<g transform="translate(650,86)" shape-rendering="crispEdges"><rect x="0" y="8" width="1" height="1" fill="#000"/><rect x="-1" y="7" width="2" height="1" fill="#000"/><rect x="-1" y="6" width="3" height="1" fill="#000"/><rect x="0" y="6" width="1" height="1" fill="#0000ff"/><rect x="-2" y="5" width="4" height="1" fill="#000"/><rect x="-1" y="5" width="2" height="1" fill="#0000ff"/><rect x="-2" y="4" width="5" height="1" fill="#000"/><rect x="-1" y="4" width="3" height="1" fill="#0000ff"/><rect x="-3" y="3" width="6" height="1" fill="#000"/><rect x="-2" y="3" width="4" height="1" fill="#0000ff"/><rect x="-3" y="2" width="7" height="1" fill="#000"/><rect x="-2" y="2" width="5" height="1" fill="#0000ff"/><rect x="-4" y="1" width="8" height="1" fill="#000"/><rect x="-3" y="1" width="6" height="1" fill="#0000ff"/><rect x="-4" y="0" width="9" height="1" fill="#000"/></g>
<g transform="translate(650,107)" shape-rendering="crispEdges"><rect x="0" y="0" width="1" height="1" fill="#000"/><rect x="-1" y="1" width="2" height="1" fill="#000"/><rect x="-1" y="2" width="3" height="1" fill="#000"/><rect x="0" y="2" width="1" height="1" fill="#ffcccc"/><rect x="-2" y="3" width="4" height="1" fill="#000"/><rect x="-1" y="3" width="2" height="1" fill="#ffcccc"/><rect x="-2" y="4" width="5" height="1" fill="#000"/><rect x="-1" y="4" width="3" height="1" fill="#ffcccc"/><rect x="-3" y="5" width="6" height="1" fill="#000"/><rect x="-2" y="5" width="4" height="1" fill="#ffcccc"/><rect x="-3" y="6" width="7" height="1" fill="#000"/></g>
<g transform="translate(168,107)" shape-rendering="crispEdges"><rect x="0" y="0" width="1" height="1" fill="#000"/><rect x="-1" y="1" width="2" height="1" fill="#000"/><rect x="-1" y="2" width="3" height="1" fill="#000"/><rect x="0" y="2" width="1" height="1" fill="#ff0000"/><rect x="-2" y="3" width="4" height="1" fill="#000"/><rect x="-1" y="3" width="2" height="1" fill="#ff0000"/><rect x="-2" y="4" width="5" height="1" fill="#000"/><rect x="-1" y="4" width="3" height="1" fill="#ff0000"/><rect x="-3" y="5" width="6" height="1" fill="#000"/><rect x="-2" y="5" width="4" height="1" fill="#ff0000"/><rect x="-3" y="6" width="7" height="1" fill="#000"/><rect x="-2" y="6" width="5" height="1" fill="#ff0000"/><rect x="-4" y="7" width="8" height="1" fill="#000"/><rect x="-3" y="7" width="6" height="1" fill="#ff0000"/><rect x="-4" y="8" width="9" height="1" fill="#000"/><rect x="-3" y="8" width="7" height="1" fill="#ff0000"/><rect x="-5" y="9" width="10" height="1" fill="#000"/><rect x="-4" y="9" width="8" height="1" fill="#ff0000"/><rect x="-5" y="10" width="11" height="1" fill="#000"/><rect x="-4" y="10" width="9" height="1" fill="#ff0000"/><rect x="-6" y="11" width="12" height="1" fill="#000"/><rect x="-5" y="11" width="10" height="1" fill="#ff0000"/><rect x="-6" y="12" width="13" height="1" fill="#000"/></g>
<g transform="translate(292,252)" shape-rendering="crispEdges"><rect x="0" y="0" width="1" height="1" fill="#000"/><rect x="-1" y="1" width="2" height="1" fill="#000"/><rect x="-1" y="2" width="3" height="1" fill="#000"/><rect x="0" y="2" width="1" height="1" fill="#ff0000"/><rect x="-2" y="3" width="4" height="1" fill="#000"/><rect x="-1" y="3" width="2" height="1" fill="#ff0000"/><rect x="-2" y="4" width="5" height="1" fill="#000"/><rect x="-1" y="4" width="3" height="1" fill="#ff0000"/><rect x="-3" y="5" width="6" height="1" fill="#000"/><rect x="-2" y="5" width="4" height="1" fill="#ff0000"/><rect x="-3" y="6" width="7" height="1" fill="#000"/><rect x="-2" y="6" width="5" height="1" fill="#ff0000"/><rect x="-4" y="7" width="8" height="1" fill="#000"/><rect x="-3" y="7" width="6" height="1" fill="#ff0000"/><rect x="-4" y="8" width="9" height="1" fill="#000"/><rect x="-3" y="8" width="7" height="1" fill="#ff0000"/><rect x="-5" y="9" width="10" height="1" fill="#000"/><rect x="-4" y="9" width="8" height="1" fill="#ff0000"/><rect x="-5" y="10" width="11" height="1" fill="#000"/><rect x="-4" y="10" width="9" height="1" fill="#ff0000"/><rect x="-6" y="11" width="12" height="1" fill="#000"/><rect x="-5" y="11" width="10" height="1" fill="#ff0000"/><rect x="-6" y="12" width="13" height="1" fill="#000"/></g>
<g transform="translate(368,321)" shape-rendering="crispEdges"><rect x="0" y="0" width="1" height="1" fill="#000"/><rect x="-1" y="1" width="2" height="1" fill="#000"/><rect x="-1" y="2" width="3" height="1" fill="#000"/><rect x="0" y="2" width="1" height="1" fill="#ff0000"/><rect x="-2" y="3" width="4" height="1" fill="#000"/><rect x="-1" y="3" width="2" height="1" fill="#ff0000"/><rect x="-2" y="4" width="5" height="1" fill="#000"/><rect x="-1" y="4" width="3" height="1" fill="#ff0000"/><rect x="-3" y="5" width="6" height="1" fill="#000"/><rect x="-2" y="5" width="4" height="1" fill="#ff0000"/><rect x="-3" y="6" width="7" height="1" fill="#000"/><rect x="-2" y="6" width="5" height="1" fill="#ff0000"/><rect x="-4" y="7" width="8" height="1" fill="#000"/><rect x="-3" y="7" width="6" height="1" fill="#ff0000"/><rect x="-4" y="8" width="9" height="1" fill="#000"/><rect x="-3" y="8" width="7" height="1" fill="#ff0000"/><rect x="-5" y="9" width="10" height="1" fill="#000"/><rect x="-4" y="9" width="8" height="1" fill="#ff0000"/><rect x="-5" y="10" width="11" height="1" fill="#000"/><rect x="-4" y="10" width="9" height="1" fill="#ff0000"/><rect x="-6" y="11" width="12" height="1" fill="#000"/><rect x="-5" y="11" width="10" height="1" fill="#ff0000"/><rect x="-6" y="12" width="13" height="1" fill="#000"/></g>
<g transform="translate(420,388)" shape-rendering="crispEdges"><rect x="0" y="0" width="1" height="1" fill="#000"/><rect x="-1" y="1" width="2" height="1" fill="#000"/><rect x="-1" y="2" width="3" height="1" fill="#000"/><rect x="0" y="2" width="1" height="1" fill="#ff0000"/><rect x="-2" y="3" width="4" height="1" fill="#000"/><rect x="-1" y="3" width="2" height="1" fill="#ff0000"/><rect x="-2" y="4" width="5" height="1" fill="#000"/><rect x="-1" y="4" width="3" height="1" fill="#ff0000"/><rect x="-3" y="5" width="6" height="1" fill="#000"/><rect x="-2" y="5" width="4" height="1" fill="#ff0000"/><rect x="-3" y="6" width="7" height="1" fill="#000"/><rect x="-2" y="6" width="5" height="1" fill="#ff0000"/><rect x="-4" y="7" width="8" height="1" fill="#000"/><rect x="-3" y="7" width="6" height="1" fill="#ff0000"/><rect x="-4" y="8" width="9" height="1" fill="#000"/><rect x="-3" y="8" width="7" height="1" fill="#ff0000"/><rect x="-5" y="9" width="10" height="1" fill="#000"/><rect x="-4" y="9" width="8" height="1" fill="#ff0000"/><rect x="-5" y="10" width="11" height="1" fill="#000"/><rect x="-4" y="10" width="9" height="1" fill="#ff0000"/><rect x="-6" y="11" width="12" height="1" fill="#000"/><rect x="-5" y="11" width="10" height="1" fill="#ff0000"/><rect x="-6" y="12" width="13" height="1" fill="#000"/></g>
<g transform="translate(468,398)" shape-rendering="crispEdges"><rect x="0" y="0" width="1" height="1" fill="#000"/><rect x="-1" y="1" width="2" height="1" fill="#000"/><rect x="-1" y="2" width="3" height="1" fill="#000"/><rect x="0" y="2" width="1" height="1" fill="#ff0000"/><rect x="-2" y="3" width="4" height="1" fill="#000"/><rect x="-1" y="3" width="2" height="1" fill="#ff0000"/><rect x="-2" y="4" width="5" height="1" fill="#000"/><rect x="-1" y="4" width="3" height="1" fill="#ff0000"/><rect x="-3" y="5" width="6" height="1" fill="#000"/><rect x="-2" y="5" width="4" height="1" fill="#ff0000"/><rect x="-3" y="6" width="7" height="1" fill="#000"/><rect x="-2" y="6" width="5" height="1" fill="#ff0000"/><rect x="-4" y="7" width="8" height="1" fill="#000"/><rect x="-3" y="7" width="6" height="1" fill="#ff0000"/><rect x="-4" y="8" width="9" height="1" fill="#000"/><rect x="-3" y="8" width="7" height="1" fill="#ff0000"/><rect x="-5" y="9" width="10" height="1" fill="#000"/><rect x="-4" y="9" width="8" height="1" fill="#ff0000"/><rect x="-5" y="10" width="11" height="1" fill="#000"/><rect x="-4" y="10" width="9" height="1" fill="#ff0000"/><rect x="-6" y="11" width="12" height="1" fill="#000"/><rect x="-5" y="11" width="10" height="1" fill="#ff0000"/><rect x="-6" y="12" width="13" height="1" fill="#000"/></g>
<g transform="translate(568,382)" shape-rendering="crispEdges"><rect x="0" y="0" width="1" height="1" fill="#000"/><rect x="-1" y="1" width="2" height="1" fill="#000"/><rect x="-1" y="2" width="3" height="1" fill="#000"/><rect x="0" y="2" width="1" height="1" fill="#ff0000"/><rect x="-2" y="3" width="4" height="1" fill="#000"/><rect x="-1" y="3" width="2" height="1" fill="#ff0000"/><rect x="-2" y="4" width="5" height="1" fill="#000"/><rect x="-1" y="4" width="3" height="1" fill="#ff0000"/><rect x="-3" y="5" width="6" height="1" fill="#000"/><rect x="-2" y="5" width="4" height="1" fill="#ff0000"/><rect x="-3" y="6" width="7" height="1" fill="#000"/><rect x="-2" y="6" width="5" height="1" fill="#ff0000"/><rect x="-4" y="7" width="8" height="1" fill="#000"/><rect x="-3" y="7" width="6" height="1" fill="#ff0000"/><rect x="-4" y="8" width="9" height="1" fill="#000"/><rect x="-3" y="8" width="7" height="1" fill="#ff0000"/><rect x="-5" y="9" width="10" height="1" fill="#000"/><rect x="-4" y="9" width="8" height="1" fill="#ff0000"/><rect x="-5" y="10" width="11" height="1" fill="#000"/><rect x="-4" y="10" width="9" height="1" fill="#ff0000"/><rect x="-6" y="11" width="12" height="1" fill="#000"/><rect x="-5" y="11" width="10" height="1" fill="#ff0000"/><rect x="-6" y="12" width="13" height="1" fill="#000"/></g>
<g transform="translate(640,400)" shape-rendering="crispEdges"><rect x="0" y="0" width="1" height="1" fill="#000"/><rect x="-1" y="1" width="2" height="1" fill="#000"/><rect x="-1" y="2" width="3" height="1" fill="#000"/><rect x="0" y="2" width="1" height="1" fill="#ff0000"/><rect x="-2" y="3" width="4" height="1" fill="#000"/><rect x="-1" y="3" width="2" height="1" fill="#ff0000"/><rect x="-2" y="4" width="5" height="1" fill="#000"/><rect x="-1" y="4" width="3" height="1" fill="#ff0000"/><rect x="-3" y="5" width="6" height="1" fill="#000"/><rect x="-2" y="5" width="4" height="1" fill="#ff0000"/><rect x="-3" y="6" width="7" height="1" fill="#000"/><rect x="-2" y="6" width="5" height="1" fill="#ff0000"/><rect x="-4" y="7" width="8" height="1" fill="#000"/><rect x="-3" y="7" width="6" height="1" fill="#ff0000"/><rect x="-4" y="8" width="9" height="1" fill="#000"/><rect x="-3" y="8" width="7" height="1" fill="#ff0000"/><rect x="-5" y="9" width="10" height="1" fill="#000"/><rect x="-4" y="9" width="8" height="1" fill="#ff0000"/><rect x="-5" y="10" width="11" height="1" fill="#000"/><rect x="-4" y="10" width="9" height="1" fill="#ff0000"/><rect x="-6" y="11" width="12" height="1" fill="#000"/><rect x="-5" y="11" width="10" height="1" fill="#ff0000"/><rect x="-6" y="12" width="13" height="1" fill="#000"/></g>
<g transform="translate(128,354)" shape-rendering="crispEdges"><rect x="0" y="12" width="1" height="1" fill="#000"/><rect x="-1" y="11" width="2" height="1" fill="#000"/><rect x="-1" y="10" width="3" height="1" fill="#000"/><rect x="0" y="10" width="1" height="1" fill="#0000ff"/><rect x="-2" y="9" width="4" height="1" fill="#000"/><rect x="-1" y="9" width="2" height="1" fill="#0000ff"/><rect x="-2" y="8" width="5" height="1" fill="#000"/><rect x="-1" y="8" width="3" height="1" fill="#0000ff"/><rect x="-3" y="7" width="6" height="1" fill="#000"/><rect x="-2" y="7" width="4" height="1" fill="#0000ff"/><rect x="-3" y="6" width="7" height="1" fill="#000"/><rect x="-2" y="6" width="5" height="1" fill="#0000ff"/><rect x="-4" y="5" width="8" height="1" fill="#000"/><rect x="-3" y="5" width="6" height="1" fill="#0000ff"/><rect x="-4" y="4" width="9" height="1" fill="#000"/><rect x="-3" y="4" width="7" height="1" fill="#0000ff"/><rect x="-5" y="3" width="10" height="1" fill="#000"/><rect x="-4" y="3" width="8" height="1" fill="#0000ff"/><rect x="-5" y="2" width="11" height="1" fill="#000"/><rect x="-4" y="2" width="9" height="1" fill="#0000ff"/><rect x="-6" y="1" width="12" height="1" fill="#000"/><rect x="-5" y="1" width="10" height="1" fill="#0000ff"/><rect x="-6" y="0" width="13" height="1" fill="#000"/></g>
<g transform="translate(252,358)" shape-rendering="crispEdges"><rect x="0" y="12" width="1" height="1" fill="#000"/><rect x="-1" y="11" width="2" height="1" fill="#000"/><rect x="-1" y="10" width="3" height="1" fill="#000"/><rect x="0" y="10" width="1" height="1" fill="#0000ff"/><rect x="-2" y="9" width="4" height="1" fill="#000"/><rect x="-1" y="9" width="2" height="1" fill="#0000ff"/><rect x="-2" y="8" width="5" height="1" fill="#000"/><rect x="-1" y="8" width="3" height="1" fill="#0000ff"/><rect x="-3" y="7" width="6" height="1" fill="#000"/><rect x="-2" y="7" width="4" height="1" fill="#0000ff"/><rect x="-3" y="6" width="7" height="1" fill="#000"/><rect x="-2" y="6" width="5" height="1" fill="#0000ff"/><rect x="-4" y="5" width="8" height="1" fill="#000"/><rect x="-3" y="5" width="6" height="1" fill="#0000ff"/><rect x="-4" y="4" width="9" height="1" fill="#000"/><rect x="-3" y="4" width="7" height="1" fill="#0000ff"/><rect x="-5" y="3" width="10" height="1" fill="#000"/><rect x="-4" y="3" width="8" height="1" fill="#0000ff"/><rect x="-5" y="2" width="11" height="1" fill="#000"/><rect x="-4" y="2" width="9" height="1" fill="#0000ff"/><rect x="-6" y="1" width="12" height="1" fill="#000"/><rect x="-5" y="1" width="10" height="1" fill="#0000ff"/><rect x="-6" y="0" width="13" height="1" fill="#000"/></g>
<g transform="translate(352,360)" shape-rendering="crispEdges"><rect x="0" y="12" width="1" height="1" fill="#000"/><rect x="-1" y="11" width="2" height="1" fill="#000"/><rect x="-1" y="10" width="3" height="1" fill="#000"/><rect x="0" y="10" width="1" height="1" fill="#0000ff"/><rect x="-2" y="9" width="4" height="1" fill="#000"/><rect x="-1" y="9" width="2" height="1" fill="#0000ff"/><rect x="-2" y="8" width="5" height="1" fill="#000"/><rect x="-1" y="8" width="3" height="1" fill="#0000ff"/><rect x="-3" y="7" width="6" height="1" fill="#000"/><rect x="-2" y="7" width="4" height="1" fill="#0000ff"/><rect x="-3" y="6" width="7" height="1" fill="#000"/><rect x="-2" y="6" width="5" height="1" fill="#0000ff"/><rect x="-4" y="5" width="8" height="1" fill="#000"/><rect x="-3" y="5" width="6" height="1" fill="#0000ff"/><rect x="-4" y="4" width="9" height="1" fill="#000"/><rect x="-3" y="4" width="7" height="1" fill="#0000ff"/><rect x="-5" y="3" width="10" height="1" fill="#000"/><rect x="-4" y="3" width="8" height="1" fill="#0000ff"/><rect x="-5" y="2" width="11" height="1" fill="#000"/><rect x="-4" y="2" width="9" height="1" fill="#0000ff"/><rect x="-6" y="1" width="12" height="1" fill="#000"/><rect x="-5" y="1" width="10" height="1" fill="#0000ff"/><rect x="-6" y="0" width="13" height="1" fill="#000"/></g>
<g transform="translate(412,438)" shape-rendering="crispEdges"><rect x="0" y="12" width="1" height="1" fill="#000"/><rect x="-1" y="11" width="2" height="1" fill="#000"/><rect x="-1" y="10" width="3" height="1" fill="#000"/><rect x="0" y="10" width="1" height="1" fill="#0000ff"/><rect x="-2" y="9" width="4" height="1" fill="#000"/><rect x="-1" y="9" width="2" height="1" fill="#0000ff"/><rect x="-2" y="8" width="5" height="1" fill="#000"/><rect x="-1" y="8" width="3" height="1" fill="#0000ff"/><rect x="-3" y="7" width="6" height="1" fill="#000"/><rect x="-2" y="7" width="4" height="1" fill="#0000ff"/><rect x="-3" y="6" width="7" height="1" fill="#000"/><rect x="-2" y="6" width="5" height="1" fill="#0000ff"/><rect x="-4" y="5" width="8" height="1" fill="#000"/><rect x="-3" y="5" width="6" height="1" fill="#0000ff"/><rect x="-4" y="4" width="9" height="1" fill="#000"/><rect x="-3" y="4" width="7" height="1" fill="#0000ff"/><rect x="-5" y="3" width="10" height="1" fill="#000"/><rect x="-4" y="3" width="8" height="1" fill="#0000ff"/><rect x="-5" y="2" width="11" height="1" fill="#000"/><rect x="-4" y="2" width="9" height="1" fill="#0000ff"/><rect x="-6" y="1" width="12" height="1" fill="#000"/><rect x="-5" y="1" width="10" height="1" fill="#0000ff"/><rect x="-6" y="0" width="13" height="1" fill="#000"/></g>
<g transform="translate(448,436)" shape-rendering="crispEdges"><rect x="0" y="12" width="1" height="1" fill="#000"/><rect x="-1" y="11" width="2" height="1" fill="#000"/><rect x="-1" y="10" width="3" height="1" fill="#000"/><rect x="0" y="10" width="1" height="1" fill="#0000ff"/><rect x="-2" y="9" width="4" height="1" fill="#000"/><rect x="-1" y="9" width="2" height="1" fill="#0000ff"/><rect x="-2" y="8" width="5" height="1" fill="#000"/><rect x="-1" y="8" width="3" height="1" fill="#0000ff"/><rect x="-3" y="7" width="6" height="1" fill="#000"/><rect x="-2" y="7" width="4" height="1" fill="#0000ff"/><rect x="-3" y="6" width="7" height="1" fill="#000"/><rect x="-2" y="6" width="5" height="1" fill="#0000ff"/><rect x="-4" y="5" width="8" height="1" fill="#000"/><rect x="-3" y="5" width="6" height="1" fill="#0000ff"/><rect x="-4" y="4" width="9" height="1" fill="#000"/><rect x="-3" y="4" width="7" height="1" fill="#0000ff"/><rect x="-5" y="3" width="10" height="1" fill="#000"/><rect x="-4" y="3" width="8" height="1" fill="#0000ff"/><rect x="-5" y="2" width="11" height="1" fill="#000"/><rect x="-4" y="2" width="9" height="1" fill="#0000ff"/><rect x="-6" y="1" width="12" height="1" fill="#000"/><rect x="-5" y="1" width="10" height="1" fill="#0000ff"/><rect x="-6" y="0" width="13" height="1" fill="#000"/></g>
<g transform="translate(496,440)" shape-rendering="crispEdges"><rect x="0" y="12" width="1" height="1" fill="#000"/><rect x="-1" y="11" width="2" height="1" fill="#000"/><rect x="-1" y="10" width="3" height="1" fill="#000"/><rect x="0" y="10" width="1" height="1" fill="#0000ff"/><rect x="-2" y="9" width="4" height="1" fill="#000"/><rect x="-1" y="9" width="2" height="1" fill="#0000ff"/><rect x="-2" y="8" width="5" height="1" fill="#000"/><rect x="-1" y="8" width="3" height="1" fill="#0000ff"/><rect x="-3" y="7" width="6" height="1" fill="#000"/><rect x="-2" y="7" width="4" height="1" fill="#0000ff"/><rect x="-3" y="6" width="7" height="1" fill="#000"/><rect x="-2" y="6" width="5" height="1" fill="#0000ff"/><rect x="-4" y="5" width="8" height="1" fill="#000"/><rect x="-3" y="5" width="6" height="1" fill="#0000ff"/><rect x="-4" y="4" width="9" height="1" fill="#000"/><rect x="-3" y="4" width="7" height="1" fill="#0000ff"/><rect x="-5" y="3" width="10" height="1" fill="#000"/><rect x="-4" y="3" width="8" height="1" fill="#0000ff"/><rect x="-5" y="2" width="11" height="1" fill="#000"/><rect x="-4" y="2" width="9" height="1" fill="#0000ff"/><rect x="-6" y="1" width="12" height="1" fill="#000"/><rect x="-5" y="1" width="10" height="1" fill="#0000ff"/><rect x="-6" y="0" width="13" height="1" fill="#000"/></g>
<g transform="translate(604,424)" shape-rendering="crispEdges"><rect x="0" y="12" width="1" height="1" fill="#000"/><rect x="-1" y="11" width="2" height="1" fill="#000"/><rect x="-1" y="10" width="3" height="1" fill="#000"/><rect x="0" y="10" width="1" height="1" fill="#0000ff"/><rect x="-2" y="9" width="4" height="1" fill="#000"/><rect x="-1" y="9" width="2" height="1" fill="#0000ff"/><rect x="-2" y="8" width="5" height="1" fill="#000"/><rect x="-1" y="8" width="3" height="1" fill="#0000ff"/><rect x="-3" y="7" width="6" height="1" fill="#000"/><rect x="-2" y="7" width="4" height="1" fill="#0000ff"/><rect x="-3" y="6" width="7" height="1" fill="#000"/><rect x="-2" y="6" width="5" height="1" fill="#0000ff"/><rect x="-4" y="5" width="8" height="1" fill="#000"/><rect x="-3" y="5" width="6" height="1" fill="#0000ff"/><rect x="-4" y="4" width="9" height="1" fill="#000"/><rect x="-3" y="4" width="7" height="1" fill="#0000ff"/><rect x="-5" y="3" width="10" height="1" fill="#000"/><rect x="-4" y="3" width="8" height="1" fill="#0000ff"/><rect x="-5" y="2" width="11" height="1" fill="#000"/><rect x="-4" y="2" width="9" height="1" fill="#0000ff"/><rect x="-6" y="1" width="12" height="1" fill="#000"/><rect x="-5" y="1" width="10" height="1" fill="#0000ff"/><rect x="-6" y="0" width="13" height="1" fill="#000"/></g>
<g transform="translate(652,430)" shape-rendering="crispEdges"><rect x="0" y="12" width="1" height="1" fill="#000"/><rect x="-1" y="11" width="2" height="1" fill="#000"/><rect x="-1" y="10" width="3" height="1" fill="#000"/><rect x="0" y="10" width="1" height="1" fill="#0000ff"/><rect x="-2" y="9" width="4" height="1" fill="#000"/><rect x="-1" y="9" width="2" height="1" fill="#0000ff"/><rect x="-2" y="8" width="5" height="1" fill="#000"/><rect x="-1" y="8" width="3" height="1" fill="#0000ff"/><rect x="-3" y="7" width="6" height="1" fill="#000"/><rect x="-2" y="7" width="4" height="1" fill="#0000ff"/><rect x="-3" y="6" width="7" height="1" fill="#000"/><rect x="-2" y="6" width="5" height="1" fill="#0000ff"/><rect x="-4" y="5" width="8" height="1" fill="#000"/><rect x="-3" y="5" width="6" height="1" fill="#0000ff"/><rect x="-4" y="4" width="9" height="1" fill="#000"/><rect x="-3" y="4" width="7" height="1" fill="#0000ff"/><rect x="-5" y="3" width="10" height="1" fill="#000"/><rect x="-4" y="3" width="8" height="1" fill="#0000ff"/><rect x="-5" y="2" width="11" height="1" fill="#000"/><rect x="-4" y="2" width="9" height="1" fill="#0000ff"/><rect x="-6" y="1" width="12" height="1" fill="#000"/><rect x="-5" y="1" width="10" height="1" fill="#0000ff"/><rect x="-6" y="0" width="13" height="1" fill="#000"/></g>
<circle cx="496.5" cy="446.5" r="7" fill="none" stroke="#f39c12" stroke-width="3" shape-rendering="crispEdges"/>
<text x="508.2" y="448.8" font-size="12" fill="#f39c12" fill-opacity="0.6">T1</text>
</svg>
</body>
</html>
